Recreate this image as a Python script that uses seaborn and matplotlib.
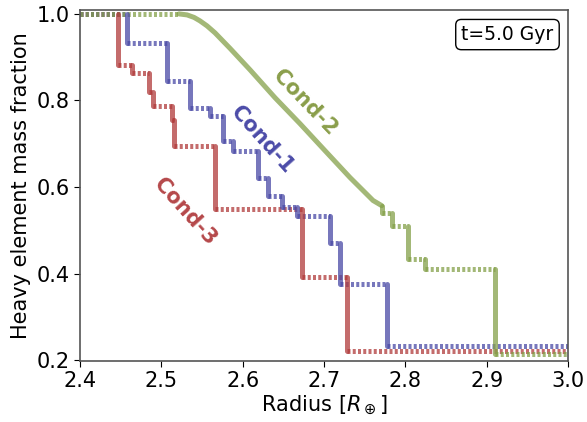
import numpy as np
import pandas as pd
import matplotlib
matplotlib.use("Agg")
import matplotlib.pyplot as plt
import seaborn as sns

# ---- data ----
R_START, R_END = 2.4, 3.0

cond1_r = [2.458, 2.5066, 2.535, 2.560, 2.5754, 2.5885, 2.619, 2.6316, 2.648, 2.6664, 2.7074, 2.7197, 2.777]
cond1_f = [0.932, 0.844, 0.782, 0.765, 0.706, 0.683, 0.621, 0.579, 0.554, 0.533, 0.470, 0.375, 0.233]

cond3_r = [2.447, 2.4636, 2.485, 2.490, 2.5127, 2.5156, 2.566, 2.6726, 2.7287]
cond3_f = [0.882, 0.863, 0.820, 0.787, 0.756, 0.694, 0.550, 0.392, 0.2215]

# Cond-2: plateau, smooth decline, then steps
cond2_flat_end = 2.5217
cond2_curve_r = [2.5217, 2.5316, 2.5402, 2.5475, 2.5562, 2.5660, 2.5844, 2.6090,
                 2.6398, 2.6705, 2.7012, 2.7320, 2.7603, 2.7710]
cond2_curve_f = [1.000, 0.9977, 0.9919, 0.9839, 0.9723, 0.9562, 0.9205, 0.8709,
                 0.8063, 0.7464, 0.6841, 0.6219, 0.5689, 0.5570]
cond2_r = [2.7710, 2.7832, 2.8037, 2.824, 2.910]
cond2_f = [0.541, 0.511, 0.433, 0.410, 0.214]

colors = {"Cond-1": "#4a4aa6", "Cond-2": "#84a049", "Cond-3": "#b03b3b"}
text_colors = {"Cond-1": "#4b4ba8", "Cond-2": "#8a9e4a", "Cond-3": "#b5484a"}
ALPHA = 0.75
LW = 3.6
DOT = (0, (0.6, 0.45))


def step_segments(r0, f0, rs, fs, r_end):
    """horizontal and vertical segments of a step profile"""
    hseg, vseg = [], []
    r_prev, f_prev = r0, f0
    for r, f in zip(rs, fs):
        hseg.append((r_prev, r, f_prev))
        vseg.append((r, f_prev, f))
        r_prev, f_prev = r, f
    hseg.append((r_prev, r_end, f_prev))
    return hseg, vseg


series = {
    "Cond-3": step_segments(R_START, 1.0, cond3_r, cond3_f, R_END),
    "Cond-1": step_segments(R_START, 1.0, cond1_r, cond1_f, R_END),
}
h2a = [(R_START, cond2_flat_end, 1.0)]
h2b, v2 = step_segments(cond2_curve_r[-1], cond2_curve_f[-1], cond2_r, cond2_f, R_END)
series["Cond-2"] = (h2a + h2b, v2)

rows = []
seg_id = 0
for cond, (hseg, _) in series.items():
    for (a, b, f) in hseg:
        if b - a <= 0:
            continue
        rows.append({"R": a, "f": f, "seg": seg_id, "cond": cond})
        rows.append({"R": b, "f": f, "seg": seg_id, "cond": cond})
        seg_id += 1
hdf = pd.DataFrame(rows)

curve_df = pd.DataFrame({"R": cond2_curve_r, "f": cond2_curve_f})

# ---- figure ----
sns.set_style("ticks")
plt.rcParams["font.family"] = ["DejaVu Sans"]
plt.rcParams["mathtext.fontset"] = "dejavusans"
plt.rcParams["xtick.color"] = "black"
plt.rcParams["ytick.color"] = "black"
plt.rcParams["axes.labelcolor"] = "black"
plt.rcParams["text.color"] = "black"

fig = plt.figure(figsize=(5.87, 4.22), dpi=100)
ax = fig.add_axes([0.1363, 0.1445, 0.8313, 0.8318])

sns.lineplot(data=hdf, x="R", y="f", hue="cond", units="seg", estimator=None,
             palette=colors, linewidth=LW, linestyle=DOT, alpha=ALPHA,
             legend=False, ax=ax, sort=False)

for cond, (_, vseg) in series.items():
    xs = [v[0] for v in vseg]
    y0 = [v[1] for v in vseg]
    y1 = [v[2] for v in vseg]
    ax.vlines(xs, y0, y1, colors=colors[cond], linewidth=LW, alpha=ALPHA,
              capstyle="round")

sns.lineplot(data=curve_df, x="R", y="f", color=colors["Cond-2"], linewidth=LW,
             alpha=ALPHA, estimator=None, sort=False, ax=ax,
             solid_capstyle="round", solid_joinstyle="round")

# labels on the curves
ax.text(2.529, 0.542, "Cond-3", color=text_colors["Cond-3"], rotation=-48,
        fontsize=15, fontweight="bold", ha="center", va="center")
ax.text(2.624, 0.71, "Cond-1", color=text_colors["Cond-1"], rotation=-48,
        fontsize=15, fontweight="bold", ha="center", va="center")
ax.text(2.677, 0.795, "Cond-2", color=text_colors["Cond-2"], rotation=-46,
        fontsize=15, fontweight="bold", ha="center", va="center")

ax.text(0.876, 0.93, "t=5.0 Gyr", transform=ax.transAxes, fontsize=13.5,
        ha="center", va="center",
        bbox=dict(boxstyle="round,pad=0.3", fc="white", ec="black", lw=1.0))

ax.set_xlim(2.4, 3.0)
ax.set_ylim(0.198, 1.009)
ax.set_xticks([2.4, 2.5, 2.6, 2.7, 2.8, 2.9, 3.0])
ax.set_yticks([0.2, 0.4, 0.6, 0.8, 1.0])
ax.tick_params(labelsize=15, length=4, colors="black")
ax.set_xlabel(r"Radius [$R_\oplus$]", fontsize=15, labelpad=2)
ax.set_ylabel("Heavy element mass fraction", fontsize=15, labelpad=4)
for s in ax.spines.values():
    s.set_visible(True)
    s.set_color("#555555")
    s.set_linewidth(1.2)

fig.savefig("out.png", dpi=100)
